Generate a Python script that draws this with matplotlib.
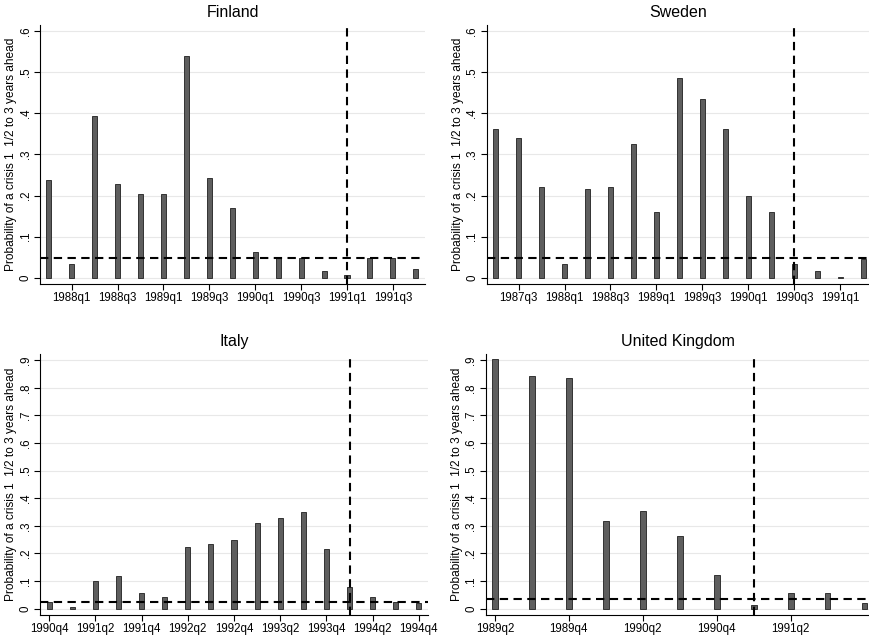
import numpy as np
import matplotlib
matplotlib.use("Agg")
import matplotlib.pyplot as plt

plt.rcParams['font.family'] = ['Liberation Sans', 'DejaVu Sans']

# Finland
fin_quarters = ['1987q4', '1988q1', '1988q2', '1988q3', '1988q4', '1989q1', '1989q2', '1989q3',
                '1989q4', '1990q1', '1990q2', '1990q3', '1990q4', '1991q1', '1991q2', '1991q3', '1991q4']
fin_values = [0.239, 0.034, 0.394, 0.229, 0.205, 0.205, 0.539, 0.242,
              0.170, 0.063, 0.047, 0.047, 0.016, 0.006, 0.048, 0.048, 0.022]
fin_ticks = ['1988q1', '1988q3', '1989q1', '1989q3', '1990q1', '1990q3', '1991q1', '1991q3']
fin_crisis = '1991q1'
fin_threshold = 0.048

# Sweden
swe_quarters = ['1987q2', '1987q3', '1987q4', '1988q1', '1988q2', '1988q3', '1988q4', '1989q1',
                '1989q2', '1989q3', '1989q4', '1990q1', '1990q2', '1990q3', '1990q4', '1991q1', '1991q2']
swe_values = [0.361, 0.341, 0.222, 0.034, 0.216, 0.220, 0.326, 0.161,
              0.485, 0.436, 0.363, 0.200, 0.159, 0.033, 0.016, 0.003, 0.046]
swe_ticks = ['1987q3', '1988q1', '1988q3', '1989q1', '1989q3', '1990q1', '1990q3', '1991q1']
swe_crisis = '1990q3'
swe_threshold = 0.048

# Italy
ita_quarters = ['1990q4', '1991q1', '1991q2', '1991q3', '1991q4', '1992q1', '1992q2', '1992q3',
                '1992q4', '1993q1', '1993q2', '1993q3', '1993q4', '1994q1', '1994q2', '1994q3', '1994q4']
ita_values = [0.023, 0.005, 0.101, 0.119, 0.058, 0.041, 0.223, 0.236,
              0.248, 0.311, 0.327, 0.349, 0.215, 0.080, 0.041, 0.025, 0.019]
ita_ticks = ['1990q4', '1991q2', '1991q4', '1992q2', '1992q4', '1993q2', '1993q4', '1994q2', '1994q4']
ita_crisis = '1994q1'
ita_threshold = 0.025

# United Kingdom
uk_quarters = ['1989q2', '1989q3', '1989q4', '1990q1', '1990q2', '1990q3', '1990q4',
               '1991q1', '1991q2', '1991q3', '1991q4']
uk_values = [0.903, 0.842, 0.836, 0.318, 0.352, 0.262, 0.121, 0.013, 0.058, 0.058, 0.021]
uk_ticks = ['1989q2', '1989q4', '1990q2', '1990q4', '1991q2']
uk_crisis = '1991q1'
uk_threshold = 0.036

ylabel = 'Probability of a crisis 1  1/2 to 3 years ahead'
dash = (0, (4, 2.6))

fig = plt.figure(figsize=(8.7, 6.39), dpi=100)

panels = [
    ('Finland', fin_quarters, fin_values, fin_ticks, fin_crisis, fin_threshold,
     [0.046, 0.5556, 0.4425, 0.4053], (-0.38, 16.4), 0.6, 0.22),
    ('Sweden', swe_quarters, swe_values, swe_ticks, swe_crisis, swe_threshold,
     [0.5594, 0.5556, 0.4406, 0.4053], (-0.39, 16.3), 0.6, 0.22),
    ('Italy', ita_quarters, ita_values, ita_ticks, ita_crisis, ita_threshold,
     [0.046, 0.0376, 0.446, 0.4085], (-0.4, 16.4), 0.9, 0.22),
    ('United Kingdom', uk_quarters, uk_values, uk_ticks, uk_crisis, uk_threshold,
     [0.5583, 0.0376, 0.4417, 0.4085], (-0.25, 10.15), 0.9, 0.16),
]

for title, quarters, values, ticks, crisis, thr, rect, xlim, ymax, width in panels:
    ax = fig.add_axes(rect)
    x = np.arange(len(quarters))
    ax.bar(x, values, width=width, color='#5e5e5e', edgecolor='#333333', linewidth=0.7, zorder=3)
    ax.axhline(thr, color='black', lw=1.5, linestyle=dash, zorder=4)
    ax.axvline(quarters.index(crisis), color='black', lw=1.5, linestyle=dash, zorder=4)

    yt = np.round(np.arange(0, ymax + 0.001, 0.1), 1)
    ax.set_yticks(yt)
    ax.set_yticklabels(['0' if v == 0 else ('%.1f' % v).lstrip('0') for v in yt],
                       rotation=90, va='center', fontsize=8.3)
    ax.set_xticks([quarters.index(t) for t in ticks])
    ax.set_xticklabels(ticks, fontsize=8.3)
    ax.tick_params(length=4, width=0.8, pad=2)

    pad = 0.015 if ymax < 0.7 else 0.023
    ax.set_ylim(-pad, ymax + pad)
    ax.set_xlim(*xlim)
    ax.yaxis.grid(True, color='#e8e8e8', lw=0.8, zorder=0)
    ax.set_axisbelow(True)
    for s in ['top', 'right']:
        ax.spines[s].set_visible(False)
    ax.spines['left'].set_linewidth(0.8)
    ax.spines['bottom'].set_linewidth(0.8)
    ax.set_ylabel(ylabel, fontsize=8.6, labelpad=2)
    ax.set_title(title, fontsize=11.5, pad=6)

fig.savefig('out.png', dpi=100, facecolor='white')
